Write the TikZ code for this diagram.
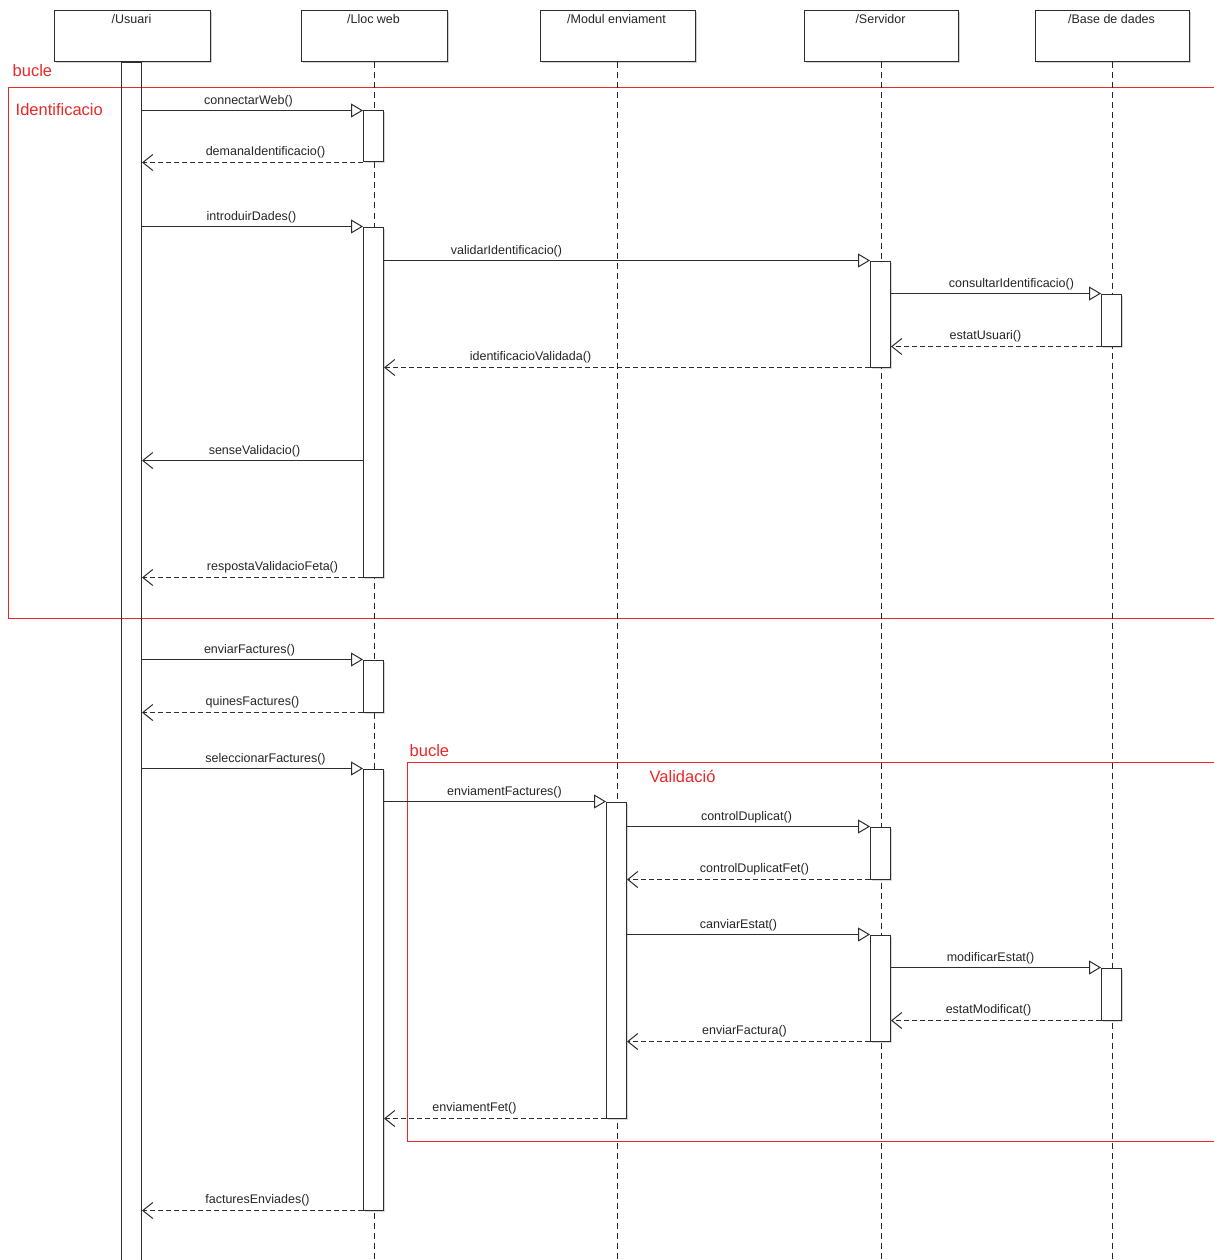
\documentclass[tikz,border=0pt]{standalone}
\usepackage{fontspec}
\setmainfont{Liberation Sans}
\usetikzlibrary{arrows.meta,shadows}
\definecolor{fr}{RGB}{235,40,40}
\definecolor{ln}{RGB}{45,45,45}
\tikzset{
  head/.style={draw=ln,line width=1pt,fill=white,minimum width=156pt,minimum height=51pt,inner sep=0pt,anchor=north west,
    drop shadow={shadow xshift=1.5pt,shadow yshift=-1.5pt,opacity=0.35}},
  htext/.style={font=\fontsize{12.5}{14}\selectfont,text=black!85,anchor=base,inner sep=0pt},
  life/.style={draw=black!85,line width=1pt,dash pattern=on 6pt off 4pt},
  act/.style={draw=ln,line width=1pt,fill=white,minimum width=20pt,inner sep=0pt,anchor=north,
    drop shadow={shadow xshift=1.5pt,shadow yshift=-1.5pt,opacity=0.3}},
  ubar/.style={draw=ln,line width=1pt,minimum width=20pt,inner sep=0pt,anchor=north},
  call/.style={draw=ln,line width=1pt,-{Triangle[open,length=12pt,width=14pt,fill=white]}},
  ret/.style={draw=ln,line width=1pt,dash pattern=on 5pt off 3pt,-{Straight Barb[length=10pt,width=16pt]}},
  sret/.style={draw=ln,line width=1pt,-{Straight Barb[length=10pt,width=16pt]}},
  lbl/.style={font=\fontsize{12.5}{14}\selectfont,text=black!85,anchor=base,inner sep=0pt},
  frame/.style={draw=fr,line width=1pt},
  ftext/.style={font=\fontsize{16.5}{19}\selectfont,text=fr,anchor=base west,inner sep=0pt},
}
\begin{document}
\begin{tikzpicture}[x=1pt,y=-1pt]
\useasboundingbox (0,0) rectangle (1214,1260);
\clip (0,0) rectangle (1214,1260);
\fill[white] (0,0) rectangle (1214,1260);
\begin{scope}[shift={(0.5,0.5)}]
% frames
\draw[frame] (8,87) rectangle (1220,618);
\draw[frame] (407,762) rectangle (1220,1141);
\node[ftext] (f1a) at (12,76) {bucle};
\node[ftext] (f1b) at (15,115) {Identificacio};
\node[ftext] (f2a) at (409,756) {bucle};
\node[ftext] (f2b) at (649,782) {Validació};

% headers
\node[head] (u) at (53,10) {};
\node[head,minimum width=146pt] (w) at (300,10) {};
\node[head,minimum width=155pt] (m) at (539,10) {};
\node[head,minimum width=154pt] (s) at (803,10) {};
\node[head,minimum width=154pt] (b) at (1034,10) {};
\node[htext] (ut) at (131,23) {/Usuari};
\node[htext] (wt) at (373,23) {/Lloc web};
\node[htext] (mt) at (616,23) {/Modul enviament};
\node[htext] (st) at (880,23) {/Servidor};
\node[htext] (bt) at (1111,23) {/Base de dades};

% lifelines
\coordinate (bottom) at (0,1262);
\draw[life] (w.south) -- (w.south |- bottom);
\draw[life] (m.south) -- (m.south |- bottom);
\draw[life] (s.south) -- (s.south |- bottom);
\draw[life] (b.south) -- (b.south |- bottom);

% activation bars
\node[ubar,minimum height=1210pt] (ub) at (131,62) {};
\node[act,minimum height=51pt] (w1) at (373,110) {};
\node[act,minimum height=350pt] (w2) at (373,226) {};
\node[act,minimum height=106pt] (s1) at (880,260) {};
\node[act,minimum height=52pt] (b1) at (1111,293) {};
\node[act,minimum height=52pt] (w3) at (373,659) {};
\node[act,minimum height=441pt] (w4) at (373,768) {};
\node[act,minimum height=316pt] (m1) at (616,801) {};
\node[act,minimum height=52pt] (s2) at (880,826) {};
\node[act,minimum height=106pt] (s3) at (880,934) {};
\node[act,minimum height=52pt] (b2) at (1111,967) {};

% messages
\draw[call] (ub.east |- w1.north) -- (w1.north west);
\draw[ret] (w1.south west) -- (ub.east |- w1.south);
\draw[call] (ub.east |- w2.north) -- (w2.north west);
\draw[call] (w2.east |- s1.north) -- (s1.north west);
\draw[call] (s1.east |- b1.north) -- (b1.north west);
\draw[ret] (b1.south west) -- (s1.east |- b1.south);
\draw[ret] (s1.south west) -- (w2.east |- s1.south);
\coordinate (sv) at (363,460);
\draw[sret] (w2.west |- sv) -- (ub.east |- sv);
\draw[ret] (w2.south west) -- (ub.east |- w2.south);
\draw[call] (ub.east |- w3.north) -- (w3.north west);
\draw[ret] (w3.south west) -- (ub.east |- w3.south);
\draw[call] (ub.east |- w4.north) -- (w4.north west);
\draw[call] (w4.east |- m1.north) -- (m1.north west);
\draw[call] (m1.east |- s2.north) -- (s2.north west);
\draw[ret] (s2.south west) -- (m1.east |- s2.south);
\draw[call] (m1.east |- s3.north) -- (s3.north west);
\draw[call] (s3.east |- b2.north) -- (b2.north west);
\draw[ret] (b2.south west) -- (s3.east |- b2.south);
\draw[ret] (s3.south west) -- (m1.east |- s3.south);
\draw[ret] (m1.south west) -- (w4.east |- m1.south);
\draw[ret] (w4.south west) -- (ub.east |- w4.south);

% labels
\node[lbl] (l1) at (248,104) {connectarWeb()};
\node[lbl] (l2) at (265,155) {demanaIdentificacio()};
\node[lbl] (l3) at (251,220) {introduirDades()};
\node[lbl] (l4) at (506,254) {validarIdentificacio()};
\node[lbl] (l5) at (1011,287) {consultarIdentificacio()};
\node[lbl] (l6) at (985,339) {estatUsuari()};
\node[lbl] (l7) at (530,360) {identificacioValidada()};
\node[lbl] (l8) at (254,454) {senseValidacio()};
\node[lbl] (l9) at (272,570) {respostaValidacioFeta()};
\node[lbl] (l10) at (249,653) {enviarFactures()};
\node[lbl] (l11) at (252,705) {quinesFactures()};
\node[lbl] (l12) at (265,762) {seleccionarFactures()};
\node[lbl] (l13) at (504,795) {enviamentFactures()};
\node[lbl] (l14) at (746,820) {controlDuplicat()};
\node[lbl] (l15) at (754,872) {controlDuplicatFet()};
\node[lbl] (l16) at (738,928) {canviarEstat()};
\node[lbl] (l17) at (990,961) {modificarEstat()};
\node[lbl] (l18) at (988,1013) {estatModificat()};
\node[lbl] (l19) at (744,1034) {enviarFactura()};
\node[lbl] (l20) at (474,1111) {enviamentFet()};
\node[lbl] (l21) at (257,1203) {facturesEnviades()};
\end{scope}
\end{tikzpicture}
\end{document}
